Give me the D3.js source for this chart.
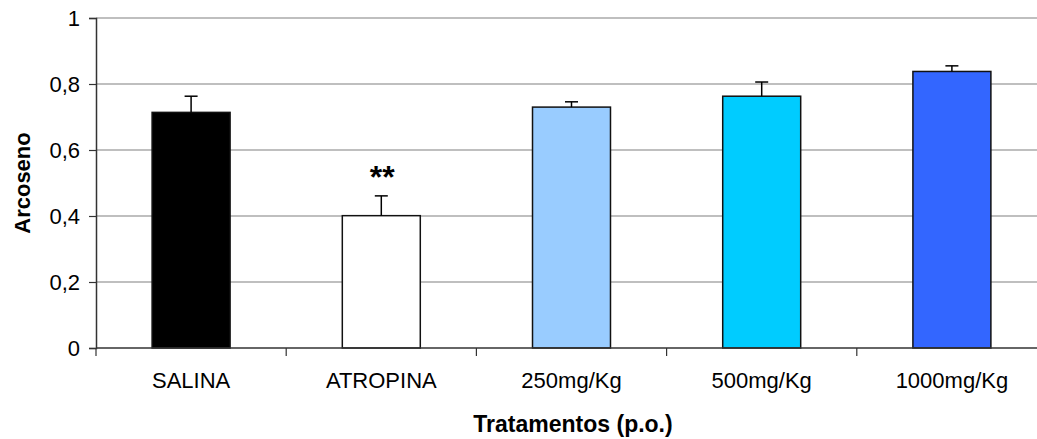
<!DOCTYPE html>
<html>
<head>
<meta charset="utf-8">
<script src="https://cdn.jsdelivr.net/npm/d3@7"></script>
<style>
  body { margin: 0; background: #fff; }
  text { font-family: Arial, "Liberation Sans", sans-serif; }
</style>
</head>
<body>
<svg id="chart" width="1037" height="439"></svg>
<script>
// data
var categories = ["SALINA", "ATROPINA", "250mg/Kg", "500mg/Kg", "1000mg/Kg"];
var means = [0.714, 0.401, 0.730, 0.763, 0.838];
var errors = [0.049, 0.060, 0.016, 0.043, 0.017];
var colors = ["#000000", "#ffffff", "#99ccff", "#00ccff", "#3366ff"];
var marks = ["", "**", "", "", ""];
var yTicks = [0, 0.2, 0.4, 0.6, 0.8, 1];

var svg = d3.select("#chart");

var x = d3.scaleBand()
    .domain(categories)
    .range([96, 1047])
    .paddingInner(0.59)
    .paddingOuter(0.295);

var y = d3.scaleLinear()
    .domain([0, 1])
    .range([348, 18]);

// gridlines
svg.append("g")
    .selectAll("line")
    .data(yTicks.filter(function(d) { return d > 0; }))
    .enter().append("line")
    .attr("x1", 96)
    .attr("x2", 1047)
    .attr("y1", function(d) { return y(d); })
    .attr("y2", function(d) { return y(d); })
    .attr("stroke", "#808080")
    .attr("stroke-width", 1.2);

// bars
var bars = svg.append("g")
    .selectAll("g")
    .data(categories)
    .enter().append("g");

bars.append("rect")
    .attr("x", function(d) { return x(d); })
    .attr("width", x.bandwidth())
    .attr("y", function(d, i) { return y(means[i]); })
    .attr("height", function(d, i) { return y(0) - y(means[i]); })
    .attr("fill", function(d, i) { return colors[i]; })
    .attr("stroke", "#111")
    .attr("stroke-width", 1.5);

// error bars
bars.append("line")
    .attr("x1", function(d) { return x(d) + x.bandwidth() / 2; })
    .attr("x2", function(d) { return x(d) + x.bandwidth() / 2; })
    .attr("y1", function(d, i) { return y(means[i]); })
    .attr("y2", function(d, i) { return y(means[i] + errors[i]); })
    .attr("stroke", "#000")
    .attr("stroke-width", 1.5);

bars.append("line")
    .attr("x1", function(d) { return x(d) + x.bandwidth() / 2 - 6.5; })
    .attr("x2", function(d) { return x(d) + x.bandwidth() / 2 + 6.5; })
    .attr("y1", function(d, i) { return y(means[i] + errors[i]); })
    .attr("y2", function(d, i) { return y(means[i] + errors[i]); })
    .attr("stroke", "#000")
    .attr("stroke-width", 1.5);

// significance marks
bars.append("text")
    .attr("x", function(d) { return x(d) + x.bandwidth() / 2 + 1; })
    .attr("y", function(d, i) { return y(means[i] + errors[i]) - 8; })
    .attr("text-anchor", "middle")
    .style("font-size", "32px")
    .style("font-weight", "bold")
    .text(function(d, i) { return marks[i]; });

// y axis
var yAxis = d3.axisLeft(y)
    .tickValues(yTicks)
    .tickSize(7)
    .tickPadding(9)
    .tickFormat(function(d) { return d3.format("")(d).replace(".", ","); });

svg.append("g")
    .attr("transform", "translate(96,0)")
    .call(yAxis)
    .call(function(g) {
        g.select(".domain").attr("stroke", "#333").attr("stroke-width", 1.5);
        g.selectAll(".tick line").attr("stroke", "#333").attr("stroke-width", 1.2);
        g.selectAll(".tick text")
            .attr("fill", "#000")
            .style("font-size", "22px")
            .style("font-family", "Arial, 'Liberation Sans', sans-serif");
    });

// x axis: ticks sit between the categories
var xAxis = d3.axisBottom(x).tickSize(0).tickPadding(24);
svg.append("g")
    .attr("transform", "translate(0,348)")
    .call(xAxis)
    .call(function(g) {
        g.select(".domain").remove();
        g.selectAll(".tick text")
            .attr("fill", "#000")
            .style("font-size", "22px")
            .style("font-family", "Arial, 'Liberation Sans', sans-serif");
    });

var edges = categories.map(function(d) { return x(d) - x.step() * x.paddingOuter(); });
edges.push(1047);
svg.append("g")
    .selectAll("line")
    .data(edges)
    .enter().append("line")
    .attr("x1", function(d) { return d; })
    .attr("x2", function(d) { return d; })
    .attr("y1", 348)
    .attr("y2", 356)
    .attr("stroke", "#333")
    .attr("stroke-width", 1.2);

svg.append("line")
    .attr("x1", 96)
    .attr("x2", 1047)
    .attr("y1", 348)
    .attr("y2", 348)
    .attr("stroke", "#333")
    .attr("stroke-width", 1.5);

// axis titles
svg.append("text")
    .attr("x", 573)
    .attr("y", 432)
    .attr("text-anchor", "middle")
    .style("font-size", "23px")
    .style("font-weight", "bold")
    .text("Tratamentos (p.o.)");

svg.append("text")
    .attr("transform", "translate(30,183) rotate(-90)")
    .attr("text-anchor", "middle")
    .style("font-size", "22px")
    .style("font-weight", "bold")
    .text("Arcoseno");
</script>
</body>
</html>
